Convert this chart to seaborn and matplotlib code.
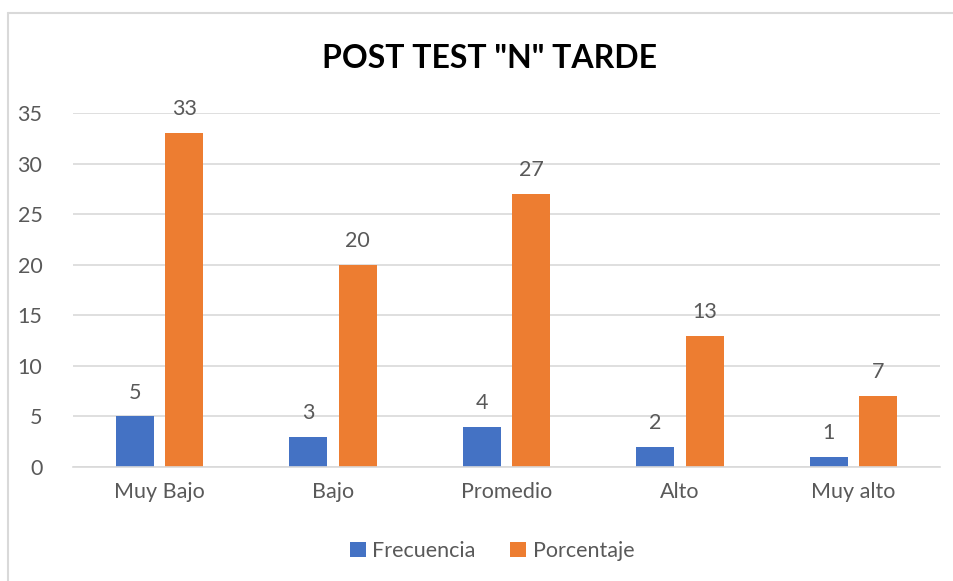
import pandas as pd
import matplotlib.pyplot as plt
import seaborn as sns
from matplotlib.lines import Line2D

# data
categorias = ['Muy Bajo', 'Bajo', 'Promedio', 'Alto', 'Muy alto']
frecuencia = [5, 3, 4, 2, 1]
porcentaje = [33, 20, 27, 13, 7]

df = pd.DataFrame({
    'nivel': categorias * 2,
    'valor': frecuencia + porcentaje,
    'serie': ['Frecuencia'] * len(categorias) + ['Porcentaje'] * len(categorias),
})

sns.set_style('white')
plt.rcParams['font.family'] = ['Lato', 'DejaVu Sans']
txt = '#595959'

fig = plt.figure(figsize=(9.54, 5.81), dpi=100)
ax = fig.add_axes([73 / 954, 1 - 467 / 581, (940 - 73) / 954, (467 - 113) / 581])

sns.barplot(data=df, x='nivel', y='valor', hue='serie', ax=ax,
            palette={'Frecuencia': '#4472C4', 'Porcentaje': '#ED7D31'},
            width=0.57, gap=0.23, saturation=1, linewidth=0, legend=True)

for cont in ax.containers:
    ax.bar_label(cont, padding=10, fontsize=15.5, color=txt)

ax.set_ylim(0, 35)
ax.set_yticks(range(0, 36, 5))
ax.yaxis.grid(True, color='#D9D9D9', lw=1.2)
ax.set_axisbelow(True)
for s in ['top', 'right', 'left']:
    ax.spines[s].set_visible(False)
ax.spines['bottom'].set_color('#D9D9D9')
ax.spines['bottom'].set_linewidth(1.2)
ax.tick_params(axis='both', length=0, labelsize=15.5, colors=txt)
ax.tick_params(axis='x', pad=11)
ax.tick_params(axis='y', pad=22)
ax.set_xlabel('')
ax.set_ylabel('')

ax.legend(loc='center', bbox_to_anchor=(492 / 954, 1 - 551 / 581),
          bbox_transform=fig.transFigure, ncol=2, frameon=False,
          fontsize=15.5, labelcolor=txt, handlelength=0.75, handleheight=0.75,
          columnspacing=1.6, handletextpad=0.3)

fig.text(490 / 954, 1 - 58 / 581, 'POST TEST "N" TARDE', ha='center', va='center',
         fontsize=23, fontweight='bold', color='black')

# chart frame (left and top edges visible)
fig.add_artist(Line2D([8 / 954, 8 / 954], [0, 1 - 13 / 581], color='#D9D9D9', lw=1.5))
fig.add_artist(Line2D([8 / 954, 1], [1 - 13 / 581, 1 - 13 / 581], color='#D9D9D9', lw=1.5))

fig.savefig('out.png', dpi=100)
